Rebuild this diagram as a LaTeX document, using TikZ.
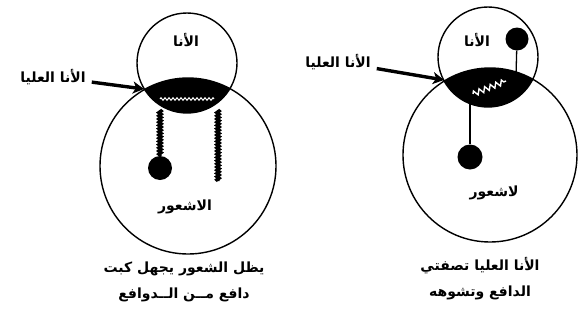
\documentclass[tikz,border=0pt]{standalone}
\usepackage{fontspec}
\newfontfamily\arabicfont[Script=Arabic]{DejaVu Sans}
\TeXXeTstate=1
\usetikzlibrary{decorations.pathmorphing,arrows.meta}

\newcommand{\rtl}[1]{\beginR #1\endR}

\tikzset{
  artext/.style={font=\arabicfont\bfseries\fontsize{14}{26}\selectfont, inner sep=1pt},
  rim/.style={line width=1.4pt},
  ball/.style={circle, fill=black, inner sep=0pt, minimum size=24pt},
  beadline/.style={line width=3.4pt, decorate,
    decoration={snake, amplitude=1.1pt, segment length=3.2pt}},
  pointer/.style={line width=3.4pt, shorten <=5pt,
    -{Stealth[length=11pt,width=12pt,inset=3pt]}},
}

\begin{document}
\begin{tikzpicture}[x=1pt,y=-1pt]
  \useasboundingbox (0,0) rectangle (584,322);

  % left: ego, id and the dark lens between them
  \coordinate (egoL) at (187,63);
  \coordinate (idL) at (188,166);
  \begin{scope}
    \clip (egoL) circle (50pt);
    \fill (idL) circle (88pt);
  \end{scope}
  \draw[rim] (egoL) circle (50pt);
  \draw[rim] (idL) circle (88pt);

  \draw[white, line width=1pt, decorate,
    decoration={zigzag, amplitude=1.3pt, segment length=4pt}] (160,99) -- (214,99);

  \node[artext] (egoLtxt) at (186,40) {\rtl{الأنا}};
  \node[artext] (superL) at (53,77) {\rtl{الأنا العليا}};
  \coordinate (tipL) at (144,89);
  \draw[pointer] (superL) -- (tipL);

  \coordinate (chainLa) at (160,110);
  \coordinate (chainLb) at (218,110);
  \coordinate (chainLend) at (218,181);
  \node[ball] (ballL) at (160,168) {};
  \draw[beadline] (chainLa) -- (ballL.north);
  \draw[beadline] (chainLb) -- (chainLend);

  \node[artext] (idLtxt) at (185,207) {\rtl{الاشعور}};
  \node[artext, align=center] (capL) at (184,282)
    {\rtl{يظل الشعور يجهل كبت}\\ \rtl{دافع مــن الــدوافع}};

  % right: ego, id and the dark lens between them
  \coordinate (egoR) at (488,57);
  \coordinate (idR) at (490,155);
  \begin{scope}
    \clip (egoR) circle (50pt);
    \fill (idR) circle (87pt);
  \end{scope}
  \draw[rim] (egoR) circle (50pt);
  \draw[rim] (idR) circle (87pt);

  \draw[white, line width=1.4pt, decorate,
    decoration={zigzag, amplitude=2.6pt, segment length=6pt}] (473,94) -- (506,81);

  \node[artext] (egoRtxt) at (477,40) {\rtl{الأنا}};
  \node[ball, minimum size=23pt] (ballRtop) at (517,39) {};
  \coordinate (stickRtop) at (516,76);
  \draw[line width=1.3pt] (ballRtop) -- (stickRtop);

  \node[artext] (superR) at (338,62) {\rtl{الأنا العليا}};
  \coordinate (tipR) at (444,80);
  \draw[pointer] (superR) -- (tipR);

  \coordinate (stickRbot) at (470,100);
  \node[ball, minimum size=25pt] (ballR) at (470,157) {};
  \draw[line width=1.6pt] (stickRbot) -- (ballR);

  \node[artext] (idRtxt) at (494,193) {\rtl{لاشعور}};
  \node[artext, align=center] (capR) at (480,279)
    {\rtl{الأنا العليا تصفتي}\\ \rtl{الدافع وتشوهه}};
\end{tikzpicture}
\end{document}
